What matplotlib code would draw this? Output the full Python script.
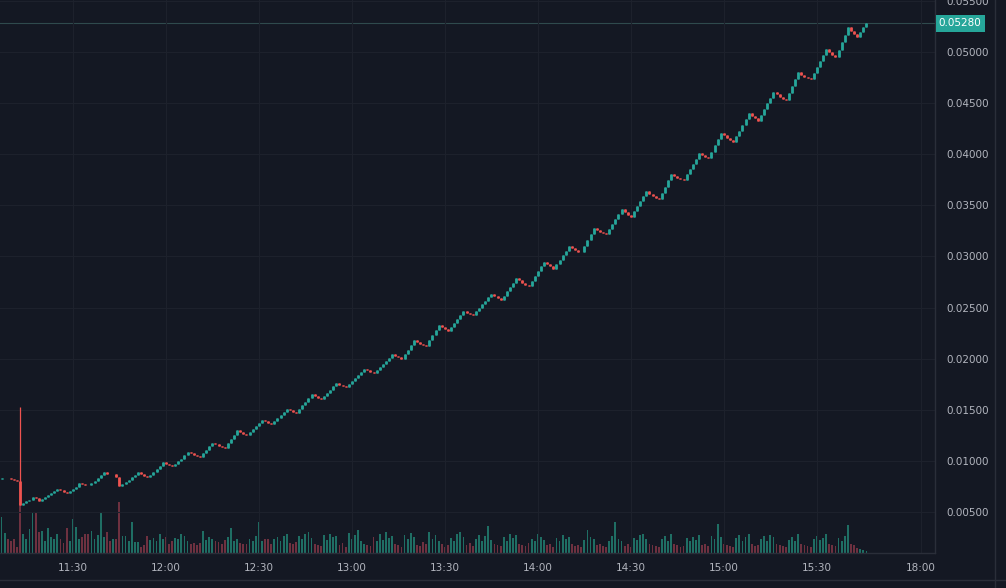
import matplotlib.pyplot as plt
import matplotlib.transforms as mtransforms
import numpy as np

# one-minute candles starting 11:07
start_minute = 11 * 60 + 7
first_open = 0.00825
closes = [
    0.00828, 0.00833, 0.00831, 0.00822, 0.00815, 0.00806, 0.00572, 0.00585, 0.00603, 0.00621,
    0.00648, 0.00634, 0.00612, 0.00630, 0.00648, 0.00665, 0.00683, 0.00701, 0.00728, 0.00712,
    0.00695, 0.00682, 0.00703, 0.00722, 0.00748, 0.00787, 0.00778, 0.00768, 0.00760, 0.00784,
    0.00808, 0.00836, 0.00862, 0.00890, 0.00876, 0.00868, 0.00872, 0.00840, 0.00752, 0.00772,
    0.00795, 0.00818, 0.00842, 0.00865, 0.00890, 0.00868, 0.00850, 0.00842, 0.00866, 0.00893,
    0.00921, 0.00952, 0.00985, 0.00972, 0.00960, 0.00948, 0.00970, 0.00995, 0.01023, 0.01055,
    0.01090, 0.01075, 0.01058, 0.01045, 0.01040, 0.01075, 0.01110, 0.01145, 0.01180, 0.01165,
    0.01148, 0.01136, 0.01130, 0.01172, 0.01214, 0.01256, 0.01298, 0.01280, 0.01265, 0.01252,
    0.01282, 0.01314, 0.01344, 0.01372, 0.01402, 0.01388, 0.01372, 0.01360, 0.01390, 0.01420,
    0.01452, 0.01482, 0.01512, 0.01496, 0.01482, 0.01470, 0.01506, 0.01543, 0.01578, 0.01614,
    0.01650, 0.01632, 0.01615, 0.01602, 0.01632, 0.01665, 0.01696, 0.01728, 0.01760, 0.01745,
    0.01731, 0.01722, 0.01752, 0.01780, 0.01812, 0.01840, 0.01870, 0.01902, 0.01886, 0.01872,
    0.01860, 0.01890, 0.01920, 0.01950, 0.01980, 0.02010, 0.02042, 0.02025, 0.02012, 0.02000,
    0.02042, 0.02086, 0.02132, 0.02178, 0.02160, 0.02145, 0.02134, 0.02128, 0.02178, 0.02228,
    0.02280, 0.02330, 0.02310, 0.02290, 0.02272, 0.02310, 0.02348, 0.02388, 0.02425, 0.02462,
    0.02450, 0.02438, 0.02428, 0.02462, 0.02496, 0.02532, 0.02566, 0.02600, 0.02632, 0.02612,
    0.02592, 0.02572, 0.02615, 0.02658, 0.02702, 0.02745, 0.02790, 0.02765, 0.02740, 0.02722,
    0.02710, 0.02758, 0.02806, 0.02855, 0.02902, 0.02950, 0.02928, 0.02902, 0.02882, 0.02926,
    0.02970, 0.03014, 0.03058, 0.03100, 0.03080, 0.03060, 0.03048, 0.03040, 0.03100, 0.03160,
    0.03220, 0.03280, 0.03260, 0.03240, 0.03228, 0.03220, 0.03268, 0.03316, 0.03364, 0.03412,
    0.03460, 0.03435, 0.03410, 0.03390, 0.03440, 0.03490, 0.03540, 0.03590, 0.03640, 0.03615,
    0.03590, 0.03570, 0.03560, 0.03622, 0.03684, 0.03746, 0.03810, 0.03790, 0.03772, 0.03760,
    0.03750, 0.03802, 0.03854, 0.03906, 0.03958, 0.04010, 0.03990, 0.03972, 0.03960, 0.04022,
    0.04086, 0.04148, 0.04210, 0.04185, 0.04160, 0.04135, 0.04120, 0.04176, 0.04232, 0.04288,
    0.04344, 0.04400, 0.04375, 0.04350, 0.04330, 0.04386, 0.04442, 0.04498, 0.04554, 0.04610,
    0.04585, 0.04560, 0.04540, 0.04530, 0.04598, 0.04666, 0.04734, 0.04800, 0.04780, 0.04760,
    0.04748, 0.04740, 0.04798, 0.04856, 0.04914, 0.04972, 0.05030, 0.05002, 0.04975, 0.04950,
    0.05022, 0.05094, 0.05168, 0.05240, 0.05210, 0.05180, 0.05150, 0.05196, 0.05242, 0.05280,
]
volumes = [
    36, 20, 14, 12, 14, 6, 50, 19, 14, 24,
    41, 41, 21, 22, 12, 25, 16, 14, 19, 14,
    10, 25, 12, 34, 26, 14, 16, 19, 19, 22,
    14, 18, 40, 16, 21, 12, 14, 14, 51, 17,
    17, 12, 31, 11, 11, 6, 8, 17, 13, 15,
    12, 19, 14, 16, 9, 12, 15, 14, 19, 17,
    12, 9, 10, 8, 10, 22, 13, 16, 14, 12,
    11, 9, 13, 16, 25, 12, 14, 10, 9, 9,
    14, 12, 17, 31, 12, 14, 14, 9, 14, 16,
    12, 17, 19, 10, 9, 11, 17, 14, 19, 21,
    15, 9, 8, 7, 18, 13, 19, 16, 17, 8,
    10, 6, 20, 14, 18, 23, 12, 9, 8, 7,
    16, 12, 19, 13, 21, 15, 17, 9, 8, 6,
    18, 14, 20, 16, 8, 7, 11, 9, 21, 14,
    18, 12, 9, 6, 8, 15, 12, 19, 21, 16,
    8, 10, 7, 14, 18, 12, 17, 27, 13, 9,
    8, 7, 16, 12, 19, 15, 18, 9, 8, 7,
    10, 14, 12, 19, 16, 13, 8, 9, 6, 15,
    12, 18, 14, 16, 9, 7, 8, 6, 13, 23,
    16, 14, 8, 9, 7, 6, 12, 17, 31, 14,
    12, 7, 9, 6, 15, 13, 18, 19, 14, 9,
    8, 7, 6, 14, 17, 12, 19, 9, 8, 6,
    7, 15, 12, 16, 13, 18, 8, 9, 7, 17,
    14, 29, 16, 9, 8, 7, 6, 15, 18, 12,
    16, 19, 9, 7, 8, 14, 17, 12, 18, 16,
    9, 8, 7, 6, 13, 16, 12, 19, 9, 8,
    7, 6, 14, 17, 13, 15, 19, 9, 8, 7,
    15, 12, 17, 28, 9, 8, 5, 4, 3, 2,
]
spike_index = 6
spike_high = 0.0153

time_labels = ['11:30', '12:00', '12:30', '13:00', '13:30', '14:00', '14:30', '15:00', '15:30']
extra_label = '18:00'
extra_label_minute = 963.5
price_ticks = [0.005, 0.010, 0.015, 0.020, 0.025, 0.030, 0.035, 0.040, 0.045, 0.050, 0.055]

bg = '#141823'
grid_c = '#1d212c'
line_c = '#2a2e39'
text_c = '#b2b5be'
up_c = '#26a69a'
down_c = '#ef5350'
up_vol = '#1f6e64'
down_vol = '#6e3140'

closes = np.array(closes)
opens = np.concatenate([[first_open], closes[:-1]])
t = start_minute + np.arange(len(closes))
up = closes >= opens
highs = np.maximum(opens, closes)
lows = np.minimum(opens, closes)
highs[spike_index] = spike_high

W, H = 1006, 588
fig = plt.figure(figsize=(W / 100, H / 100), dpi=100, facecolor=bg)
rect = [0, 35 / H, 935 / W, 553 / H]

vax = fig.add_axes(rect)
vax.set_facecolor(bg)
vax.bar(t, volumes, width=0.6, color=np.where(up, up_vol, down_vol), linewidth=0)
vax.set_ylim(0, 553)
vax.axis('off')

ax = fig.add_axes(rect, sharex=vax)
ax.patch.set_alpha(0)
ax.set_xlim(666.5, 666.5 + 935 / 3.1)
ax.set_ylim(0.00099, 0.05509)

colors = np.where(up, up_c, down_c)
ax.vlines(t, lows, highs, colors=colors, linewidth=0.9)
ax.vlines(t, opens, closes, colors=colors, linewidth=2.0)

# current price line and tag
last = closes[-1]
ax.axhline(last, color='#2f4a4d', linewidth=0.8, zorder=0)
tr = mtransforms.blended_transform_factory(ax.transAxes, ax.transData)
ax.text(1.004, last, f'{last:.5f}', transform=tr, ha='left', va='center',
        color='white', fontsize=7.5,
        bbox=dict(boxstyle='square,pad=0.3', fc=up_c, ec='none'))

tick_minutes = [int(s[:2]) * 60 + int(s[3:]) for s in time_labels] + [extra_label_minute]
ax.set_xticks(tick_minutes)
ax.set_xticklabels(time_labels + [extra_label])
ax.set_yticks(price_ticks)
ax.set_yticklabels([f'{p:.5f}' for p in price_ticks])
ax.yaxis.tick_right()
ax.tick_params(axis='both', length=0, labelcolor=text_c, labelsize=7.5)
ax.tick_params(axis='y', pad=8)
ax.tick_params(axis='x', pad=7)
ax.grid(True, color=grid_c, linewidth=0.8)
ax.set_axisbelow(True)

for s in ['top', 'left']:
    ax.spines[s].set_visible(False)
for s in ['right', 'bottom']:
    ax.spines[s].set_color(line_c)
    ax.spines[s].set_linewidth(1.0)

fig.add_artist(plt.Line2D([0, 1], [8 / H, 8 / H], color=line_c, linewidth=1.0))
fig.add_artist(plt.Line2D([995 / W, 995 / W], [0, 1], color=line_c, linewidth=1.0))

fig.savefig('out.png', dpi=100, facecolor=bg)
